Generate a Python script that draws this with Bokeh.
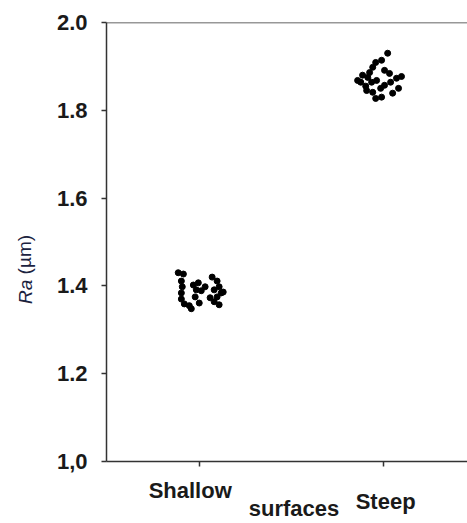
import math
from bokeh.plotting import figure
from bokeh.models import Range1d, Span, FixedTicker, LinearAxis
from bokeh.embed import file_html
from bokeh.resources import INLINE

# ---- data ----
categories = ["Shallow", "Steep"]
cat_pos = [1, 2]

shallow_x = [0.886, 0.914, 0.903, 0.908, 0.903, 0.903, 0.919, 0.946, 0.957,
             0.968, 0.995, 0.984, 1.011, 0.978, 1.000, 1.070, 1.097, 1.108,
             1.081, 1.119, 1.097, 1.059, 1.081, 1.108, 1.130, 1.032]
shallow_ra = [1.430, 1.427, 1.411, 1.398, 1.384, 1.370, 1.359, 1.355, 1.348,
              1.402, 1.407, 1.391, 1.389, 1.375, 1.361, 1.420, 1.411, 1.398,
              1.391, 1.384, 1.375, 1.373, 1.364, 1.357, 1.386, 1.398]

steep_x = [2.022, 1.957, 1.989, 1.941, 2.005, 2.032, 1.886, 1.914, 1.876,
           1.903, 1.935, 1.962, 1.908, 1.941, 1.984, 2.005, 2.038, 2.070,
           2.097, 2.081, 2.049, 1.957, 1.989, 1.924, 1.859]
steep_ra = [1.930, 1.909, 1.914, 1.898, 1.891, 1.884, 1.880, 1.875, 1.864,
            1.855, 1.864, 1.868, 1.845, 1.841, 1.850, 1.857, 1.864, 1.873,
            1.877, 1.850, 1.839, 1.827, 1.830, 1.886, 1.868]

y_ticks = [1.0, 1.2, 1.4, 1.6, 1.8, 2.0]
y_tick_labels = ["1,0", "1.2", "1.4", "1.6", "1.8", "2.0"]

# label anchor positions (style: where the texts sit along their axis)
LBL_SHALLOW_X = 0.951
LBL_STEEP_X = 2.011
LBL_SURF_X = 1.514
LBL_RA_Y = 1.414     # upper end of "Ra"
LBL_UM_Y = 1.516     # upper end of "(µm)"

FONT = "Liberation Sans"
TXT = "#1a1a1a"
TITLE_COL = "#1c2340"

p = figure(width=467, height=523, output_backend="svg", toolbar_location=None,
           x_range=Range1d(0.497, 2.455), y_range=Range1d(1.0, 2.0),
           min_border_left=105, min_border_right=0, min_border_top=22,
           min_border_bottom=61)
p.outline_line_color = None
p.xgrid.visible = False
p.ygrid.visible = False
p.background_fill_color = "white"

p.scatter(shallow_x, shallow_ra, size=6, color="black")
p.scatter(steep_x, steep_ra, size=6, color="black")

# main axes
for ax in (p.xaxis[0], p.yaxis[0]):
    ax.axis_line_color = "#333333"
    ax.axis_line_width = 1.5
    ax.major_tick_line_color = "#333333"
    ax.major_tick_line_width = 1.5
    ax.major_tick_in = 0
    ax.major_tick_out = 5
    ax.minor_tick_line_color = None

p.yaxis.ticker = FixedTicker(ticks=y_ticks)
p.yaxis.major_label_overrides = {t: l for t, l in zip(y_ticks, y_tick_labels)}
p.yaxis.major_label_text_font = FONT
p.yaxis.major_label_text_font_style = "bold"
p.yaxis.major_label_text_font_size = "22px"
p.yaxis.major_label_text_color = TXT
p.yaxis.major_label_standoff = 14

p.xaxis.ticker = FixedTicker(ticks=cat_pos)
p.xaxis.major_label_overrides = {c: "" for c in cat_pos}
p.xaxis.major_label_text_font_size = "1px"
p.xaxis.major_label_standoff = 0


def text_axis(pos, text, standoff, size="22px", style="bold", color=TXT,
              orient="horizontal"):
    ax = LinearAxis(ticker=FixedTicker(ticks=[pos]),
                    major_label_overrides={pos: text},
                    axis_line_color=None, major_tick_line_color=None,
                    minor_tick_line_color=None, major_tick_in=0, major_tick_out=0,
                    major_label_standoff=standoff,
                    major_label_text_font=FONT, major_label_text_font_style=style,
                    major_label_text_font_size=size, major_label_text_color=color,
                    major_label_orientation=orient)
    return ax

# staggered category labels and the x title (stacked outward from the frame)
p.add_layout(text_axis(LBL_SHALLOW_X, categories[0], 11), "below")
p.add_layout(text_axis(LBL_SURF_X, "surfaces", -10), "below")
p.add_layout(text_axis(LBL_STEEP_X, categories[1], -35), "below")

# y title: italic "Ra" followed by "(µm)", reading upwards
p.add_layout(text_axis(LBL_RA_Y, "Ra", 28, size="19px", style="italic",
                       color=TITLE_COL, orient=math.pi / 2), "left")
p.add_layout(text_axis(LBL_UM_Y, "(µm)", -23, size="19px", style="normal",
                       color=TITLE_COL, orient=math.pi / 2), "left")

# top border
p.add_layout(Span(location=2.0, dimension="width", line_color="#333333", line_width=1.5))

open("out.html", "w").write(file_html(p, INLINE))
